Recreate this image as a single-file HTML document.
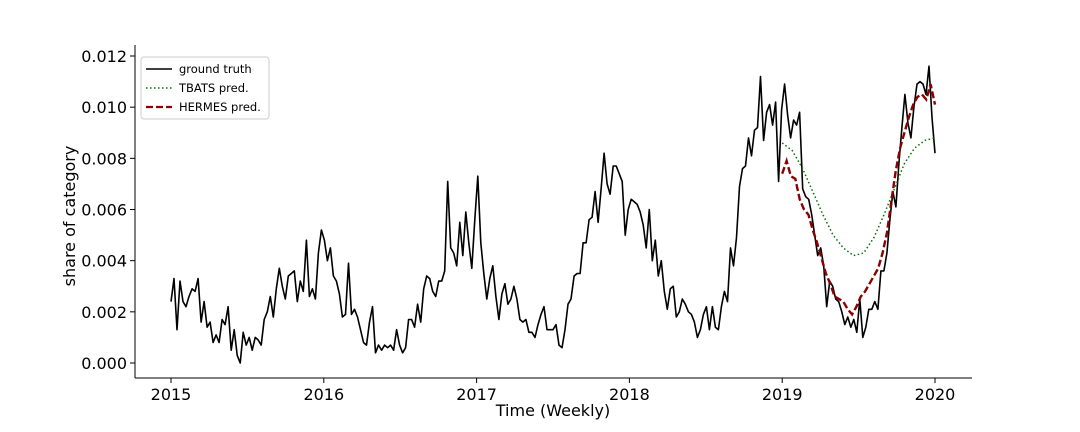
<!DOCTYPE html>
<html><head><meta charset="utf-8"><style>
body{margin:0;background:#fff}
svg{font-family:"DejaVu Sans","Liberation Sans",sans-serif;display:block}
</style></head><body>
<svg id="chart" width="1080" height="432" viewBox="0 0 1080 432" xmlns="http://www.w3.org/2000/svg">
<g id="axes"></g>
<g id="series"></g>
<g>
<rect x="141" y="57" width="128" height="62" rx="3" fill="#fff" stroke="#ccc" stroke-width="1"/>
<g><line x1="146" y1="69" x2="172" y2="69" stroke="#000" stroke-width="1.5"/><text x="179" y="73" font-size="11.5">ground truth</text></g>
<g><line x1="146" y1="88" x2="172" y2="88" stroke="#007000" stroke-width="1.5" stroke-dasharray="1.5,2.5"/><text x="179" y="92" font-size="11.5">TBATS pred.</text></g>
<g><line x1="146" y1="107" x2="172" y2="107" stroke="#8b0000" stroke-width="2.2" stroke-dasharray="7,3"/><text x="179" y="111" font-size="11.5">HERMES pred.</text></g>
</g>
<text x="553" y="416" font-size="16" text-anchor="middle">Time (Weekly)</text>
<text transform="translate(75,216) rotate(-90)" font-size="16" text-anchor="middle">share of category</text>
</svg>
<script>
const xTicks=[2015,2016,2017,2018,2019,2020];
const yTicks=[0,0.002,0.004,0.006,0.008,0.010,0.012];
const yTickLabels=["0.000","0.002","0.004","0.006","0.008","0.010","0.012"];
const truthStart=2015.0, truthEnd=2020.0;
const truth=[0.0024,0.0033,0.0013,0.0032,0.0024,0.0022,0.0026,0.0029,0.0028,0.0033,0.0016,0.0024,0.0014,0.0016,0.0008,0.0011,0.0008,0.0017,0.0015,0.0022,0.0005,0.0013,0.0003,0.0000,0.0012,0.0007,0.0010,0.0005,0.0010,0.0009,0.0007,0.0017,0.0020,0.0026,0.0018,0.0029,0.0037,0.0030,0.0025,0.0034,0.0035,0.0036,0.0024,0.0032,0.0028,0.0048,0.0026,0.0029,0.0025,0.0043,0.0052,0.0048,0.0040,0.0045,0.0034,0.0032,0.0027,0.0018,0.0019,0.0039,0.0019,0.0021,0.0018,0.0013,0.0008,0.0007,0.0016,0.0022,0.0004,0.0007,0.0005,0.0007,0.0006,0.0007,0.0005,0.0013,0.0007,0.0004,0.0006,0.0017,0.0017,0.0014,0.0023,0.0016,0.0029,0.0034,0.0033,0.0028,0.0026,0.0032,0.0032,0.0036,0.0071,0.0045,0.0043,0.0038,0.0055,0.0042,0.0059,0.0047,0.0037,0.0056,0.0073,0.0047,0.0035,0.0025,0.0033,0.0038,0.0026,0.0017,0.0027,0.0031,0.0023,0.0025,0.0030,0.0025,0.0017,0.0016,0.0017,0.0012,0.0012,0.0010,0.0015,0.0019,0.0022,0.0013,0.0013,0.0013,0.0015,0.0007,0.0006,0.0013,0.0023,0.0025,0.0034,0.0035,0.0035,0.0047,0.0047,0.0056,0.0057,0.0067,0.0055,0.0068,0.0082,0.0070,0.0066,0.0077,0.0077,0.0074,0.0071,0.0050,0.0060,0.0064,0.0063,0.0062,0.0059,0.0054,0.0045,0.0060,0.0040,0.0048,0.0034,0.0040,0.0028,0.0021,0.0029,0.0030,0.0018,0.0020,0.0025,0.0023,0.0020,0.0019,0.0016,0.0010,0.0013,0.0019,0.0022,0.0013,0.0022,0.0014,0.0013,0.0022,0.0028,0.0024,0.0045,0.0038,0.0049,0.0069,0.0076,0.0077,0.0088,0.0081,0.0091,0.0092,0.0112,0.0087,0.0098,0.0101,0.0093,0.0102,0.0071,0.0099,0.0109,0.0097,0.0088,0.0095,0.0093,0.0098,0.0068,0.0065,0.0064,0.0058,0.0050,0.0042,0.0045,0.0038,0.0022,0.0032,0.0030,0.0025,0.0024,0.0020,0.0015,0.0018,0.0014,0.0017,0.0012,0.0025,0.0010,0.0014,0.0021,0.0021,0.0024,0.0021,0.0036,0.0036,0.0043,0.0056,0.0067,0.0061,0.0078,0.0092,0.0105,0.0094,0.0088,0.0100,0.0109,0.0110,0.0109,0.0105,0.0116,0.0096,0.0082];
const predStart=2019.0, predEnd=2020.0;
const tbats=[0.0086,0.0083,0.0076,0.0067,0.0058,0.0050,0.0045,0.0042,0.0043,0.0049,0.0058,0.0068,0.0078,0.0084,0.0087,0.0088];
const hermes=[0.0074,0.0079,0.0073,0.0072,0.0064,0.0060,0.0058,0.0052,0.0047,0.0041,0.0035,0.0031,0.0026,0.0025,0.0024,0.0021,0.0019,0.0022,0.0026,0.0028,0.0031,0.0034,0.0037,0.0043,0.0051,0.0063,0.0075,0.0084,0.0090,0.0096,0.0101,0.0104,0.0105,0.0103,0.0109,0.0101];

const NS="http://www.w3.org/2000/svg";
const X=v=>171+(v-2015)*152.8;
const Y=v=>363-v*25583;
const L=135,R=972,T=45,B=378;
const axes=document.getElementById('axes'), ser=document.getElementById('series');
function mk(tag,attrs,parent){const e=document.createElementNS(NS,tag);for(const k in attrs)e.setAttribute(k,attrs[k]);parent.appendChild(e);return e;}
const la=mk('line',{x1:L,y1:T,x2:L,y2:B,stroke:'#000','stroke-width':1},axes);


const ba=mk('line',{x1:L,y1:B,x2:R,y2:B,stroke:'#000','stroke-width':1},axes);


xTicks.forEach(t=>{
  const g=mk('g',{},axes);
  
  
  mk('line',{x1:X(t),y1:B,x2:X(t),y2:B+5,stroke:'#000'},g);
  const tx=mk('text',{x:X(t),y:B+22,'font-size':16,'text-anchor':'middle'},g);tx.textContent=t;
});
yTicks.forEach((t,i)=>{
  const g=mk('g',{},axes);
  
  
  mk('line',{x1:L-5,y1:Y(t),x2:L,y2:Y(t),stroke:'#000'},g);
  const tx=mk('text',{x:L-8,y:Y(t)+6,'font-size':16,'text-anchor':'end'},g);tx.textContent=yTickLabels[i];
});
function path(arr,s,e){const n=arr.length;return arr.map((v,i)=>(i?'L':'M')+X(s+i*(e-s)/(n-1)).toFixed(1)+','+Y(v).toFixed(1)).join('');}
const p1=mk('path',{d:path(truth,truthStart,truthEnd),fill:'none',stroke:'#000','stroke-width':1.6,'stroke-linejoin':'round'},ser);


const p2=mk('path',{d:path(tbats,predStart,predEnd),fill:'none',stroke:'#007000','stroke-width':1.5,'stroke-dasharray':'1.5,2.5'},ser);


const p3=mk('path',{d:path(hermes,predStart,predEnd),fill:'none',stroke:'#8b0000','stroke-width':2.4,'stroke-dasharray':'7,3'},ser);


</script>
</body></html>
